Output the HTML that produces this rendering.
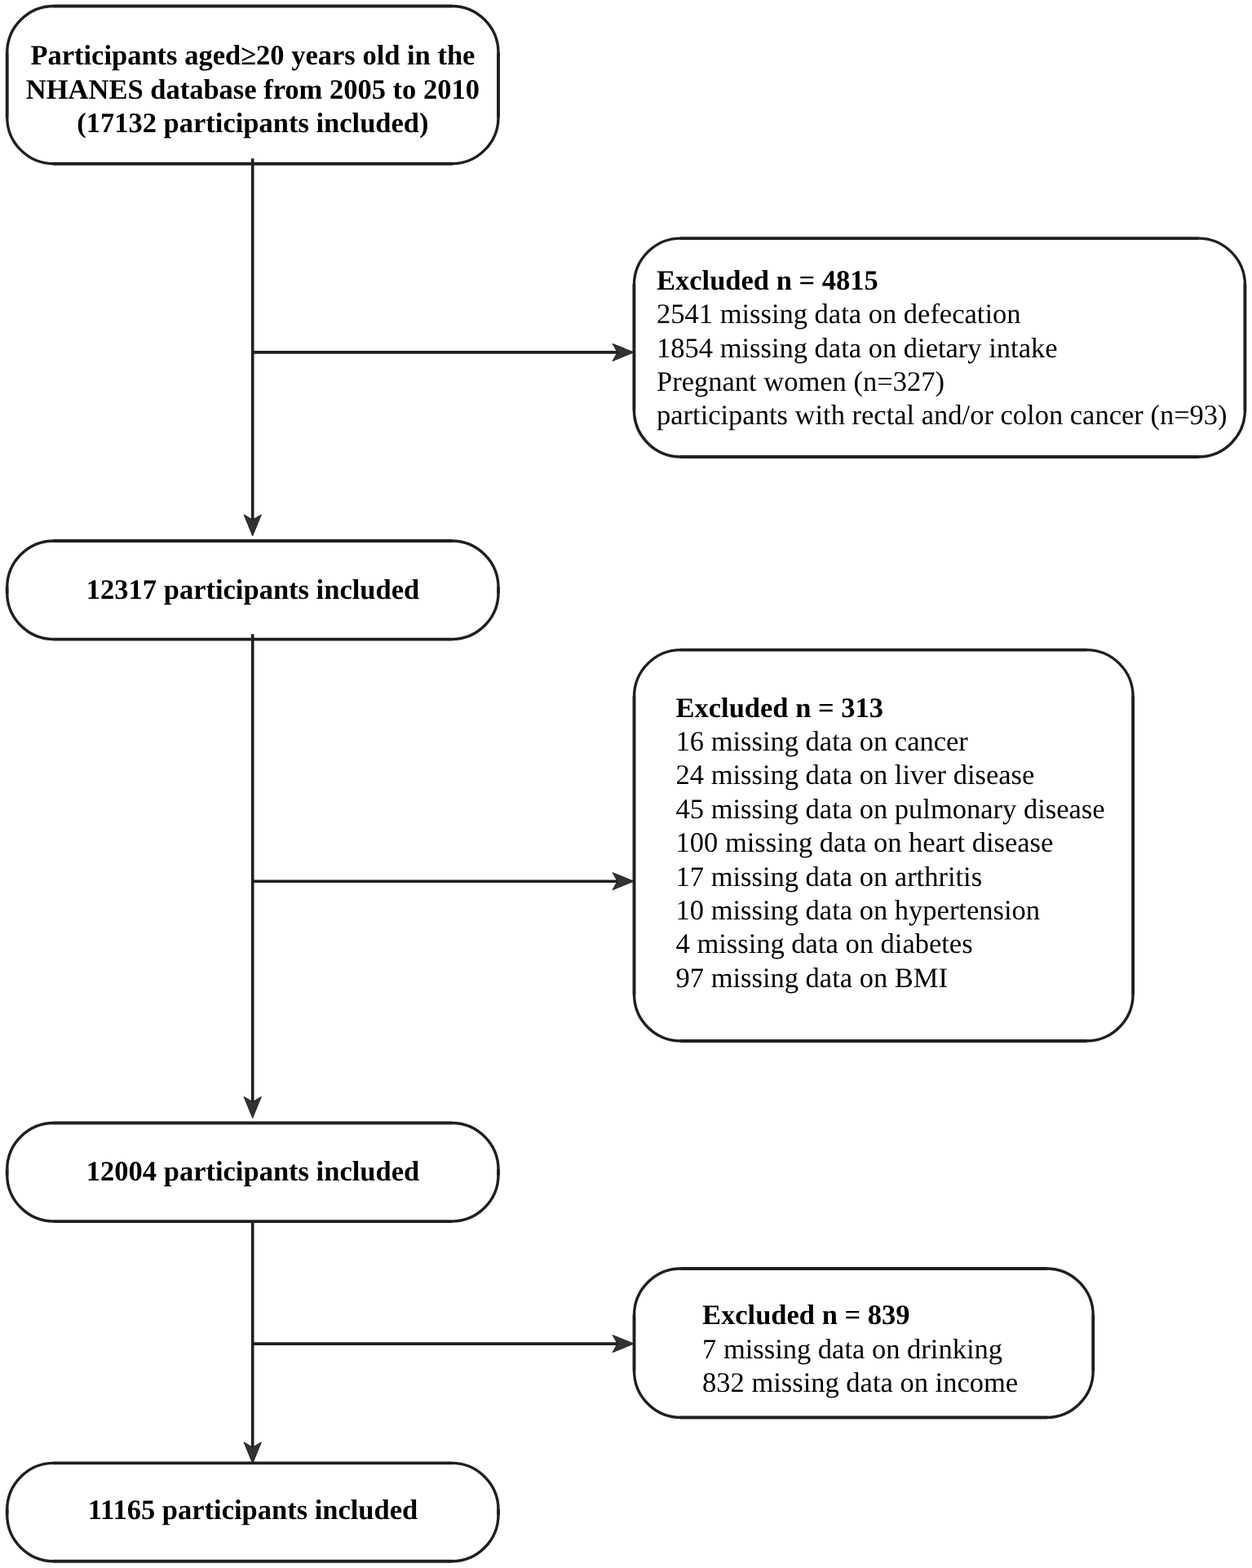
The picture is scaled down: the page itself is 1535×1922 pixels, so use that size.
<!DOCTYPE html>
<html lang="en">
<head>
<meta charset="utf-8">
<title>Flowchart of participant selection</title>
<style>
html,body{margin:0;padding:0;background:#fff;}
body{width:1535px;height:1922px;overflow:hidden;}
svg{display:block;will-change:transform;}
svg text{text-rendering:geometricPrecision;font-family:"Liberation Serif",serif;font-size:34.5px;fill:#000;}
svg text.b{font-weight:bold;}
.boxes path{fill:none;stroke:#1f1f1f;}
.boxes .st{stroke-width:3.9;}
.boxes .ar{stroke-width:3.4;}
.lines line{stroke:#1f1f1f;stroke-width:3.6;}
.ah{fill:#323232;stroke:#1a1a1a;stroke-width:0.9;stroke-linejoin:miter;}
</style>
</head>
<body>
<svg width="1535" height="1922" viewBox="0 0 1535 1922">
<rect x="0" y="0" width="1535" height="1922" fill="#ffffff"/>
<g class="lines">
<line x1="309.7" y1="194.3" x2="309.7" y2="638.1"/>
<line x1="309.7" y1="777.2" x2="309.7" y2="1351.6"/>
<line x1="309.7" y1="1497.1" x2="309.7" y2="1775.1"/>
<line x1="309.7" y1="431.9" x2="758.0" y2="431.9"/>
<line x1="309.7" y1="1080.2" x2="758.0" y2="1080.2"/>
<line x1="309.7" y1="1647.1" x2="758.0" y2="1647.1"/>
</g>
<g class="boxes">
<path class="st" d="M65.4 7.5H554.3M611.0 64.2V144.0M554.3 200.7H65.4M8.7 144.0V64.2"/>
<path class="ar" d="M553.7 7.5A57.3 57.3 0 0 1 611.0 64.8M611.0 143.4A57.3 57.3 0 0 1 553.7 200.7M66.0 200.7A57.3 57.3 0 0 1 8.7 143.4M8.7 64.8A57.3 57.3 0 0 1 66.0 7.5"/>
<path class="st" d="M834.1 292.1H1469.7M1526.4 348.8V503.3M1469.7 560.0H834.1M777.4 503.3V348.8"/>
<path class="ar" d="M1469.1 292.1A57.3 57.3 0 0 1 1526.4 349.4M1526.4 502.7A57.3 57.3 0 0 1 1469.1 560.0M834.7 560.0A57.3 57.3 0 0 1 777.4 502.7M777.4 349.4A57.3 57.3 0 0 1 834.7 292.1"/>
<path class="st" d="M65.4 663.0H554.3M611.0 719.7V726.9M554.3 783.6H65.4M8.7 726.9V719.7"/>
<path class="ar" d="M553.7 663.0A57.3 57.3 0 0 1 611.0 720.3M611.0 726.3A57.3 57.3 0 0 1 553.7 783.6M66.0 783.6A57.3 57.3 0 0 1 8.7 726.3M8.7 720.3A57.3 57.3 0 0 1 66.0 663.0"/>
<path class="st" d="M834.2 796.6H1332.4M1389.1 853.3V1219.3M1332.4 1276.0H834.2M777.5 1219.3V853.3"/>
<path class="ar" d="M1331.8 796.6A57.3 57.3 0 0 1 1389.1 853.9M1389.1 1218.7A57.3 57.3 0 0 1 1331.8 1276.0M834.8 1276.0A57.3 57.3 0 0 1 777.5 1218.7M777.5 853.9A57.3 57.3 0 0 1 834.8 796.6"/>
<path class="st" d="M65.4 1376.5H554.3M611.0 1433.2V1440.4M554.3 1497.1H65.4M8.7 1440.4V1433.2"/>
<path class="ar" d="M553.7 1376.5A57.3 57.3 0 0 1 611.0 1433.8M611.0 1439.8A57.3 57.3 0 0 1 553.7 1497.1M66.0 1497.1A57.3 57.3 0 0 1 8.7 1439.8M8.7 1433.8A57.3 57.3 0 0 1 66.0 1376.5"/>
<path class="st" d="M834.2 1555.0H1283.5M1340.2 1611.7V1680.8M1283.5 1737.5H834.2M777.5 1680.8V1611.7"/>
<path class="ar" d="M1282.9 1555.0A57.3 57.3 0 0 1 1340.2 1612.3M1340.2 1680.2A57.3 57.3 0 0 1 1282.9 1737.5M834.8 1737.5A57.3 57.3 0 0 1 777.5 1680.2M777.5 1612.3A57.3 57.3 0 0 1 834.8 1555.0"/>
<path class="st" d="M65.4 1793.4H554.3M611.0 1850.1V1857.1M554.3 1913.8H65.4M8.7 1857.1V1850.1"/>
<path class="ar" d="M553.7 1793.4A57.3 57.3 0 0 1 611.0 1850.7M611.0 1856.5A57.3 57.3 0 0 1 553.7 1913.8M66.0 1913.8A57.3 57.3 0 0 1 8.7 1856.5M8.7 1850.7A57.3 57.3 0 0 1 66.0 1793.4"/>
</g>
<g class="heads">
<path class="ah" d="M309.7 657.0 L299.0 630.8 L309.7 637.1 L320.4 630.8 Z"/>
<path class="ah" d="M309.7 1370.5 L299.0 1344.3 L309.7 1350.6 L320.4 1344.3 Z"/>
<path class="ah" d="M309.7 1794.0 L299.0 1767.8 L309.7 1774.1 L320.4 1767.8 Z"/>
<path class="ah" d="M777.2 431.9 L751.0 421.3 L757.0 431.9 L751.0 442.5 Z"/>
<path class="ah" d="M777.2 1080.2 L751.0 1069.6 L757.0 1080.2 L751.0 1090.8 Z"/>
<path class="ah" d="M777.2 1647.1 L751.0 1636.5 L757.0 1647.1 L751.0 1657.7 Z"/>
</g>
<g class="labels">
<text class="b" text-anchor="middle" x="309.9" y="79.4">Participants aged≥20 years old in the</text>
<text class="b" text-anchor="middle" x="309.9" y="120.8">NHANES database from 2005 to 2010</text>
<text class="b" text-anchor="middle" x="309.9" y="162.2">(17132 participants included)</text>
<text class="b" text-anchor="middle" x="310.0" y="734.0">12317 participants included</text>
<text class="b" text-anchor="middle" x="310.0" y="1446.8">12004 participants included</text>
<text class="b" text-anchor="middle" x="310.0" y="1862.0">11165 participants included</text>
<text class="b" x="805.0" y="354.8">Excluded n = 4815</text>
<text x="805.0" y="396.2">2541 missing data on defecation</text>
<text x="805.0" y="437.6">1854 missing data on dietary intake</text>
<text x="805.0" y="479.0">Pregnant women (n=327)</text>
<text x="805.0" y="520.4">participants with rectal and/or colon cancer (n=93)</text>
<text class="b" x="828.5" y="878.5">Excluded n = 313</text>
<text x="828.5" y="919.9">16 missing data on cancer</text>
<text x="828.5" y="961.3">24 missing data on liver disease</text>
<text x="828.5" y="1002.7">45 missing data on pulmonary disease</text>
<text x="828.5" y="1044.1">100 missing data on heart disease</text>
<text x="828.5" y="1085.5">17 missing data on arthritis</text>
<text x="828.5" y="1126.9">10 missing data on hypertension</text>
<text x="828.5" y="1168.3">4 missing data on diabetes</text>
<text x="828.5" y="1209.7">97 missing data on BMI</text>
<text class="b" x="861.0" y="1623.3">Excluded n = 839</text>
<text x="861.0" y="1664.7">7 missing data on drinking</text>
<text x="861.0" y="1706.1">832 missing data on income</text>
</g>
</svg>
</body>
</html>
